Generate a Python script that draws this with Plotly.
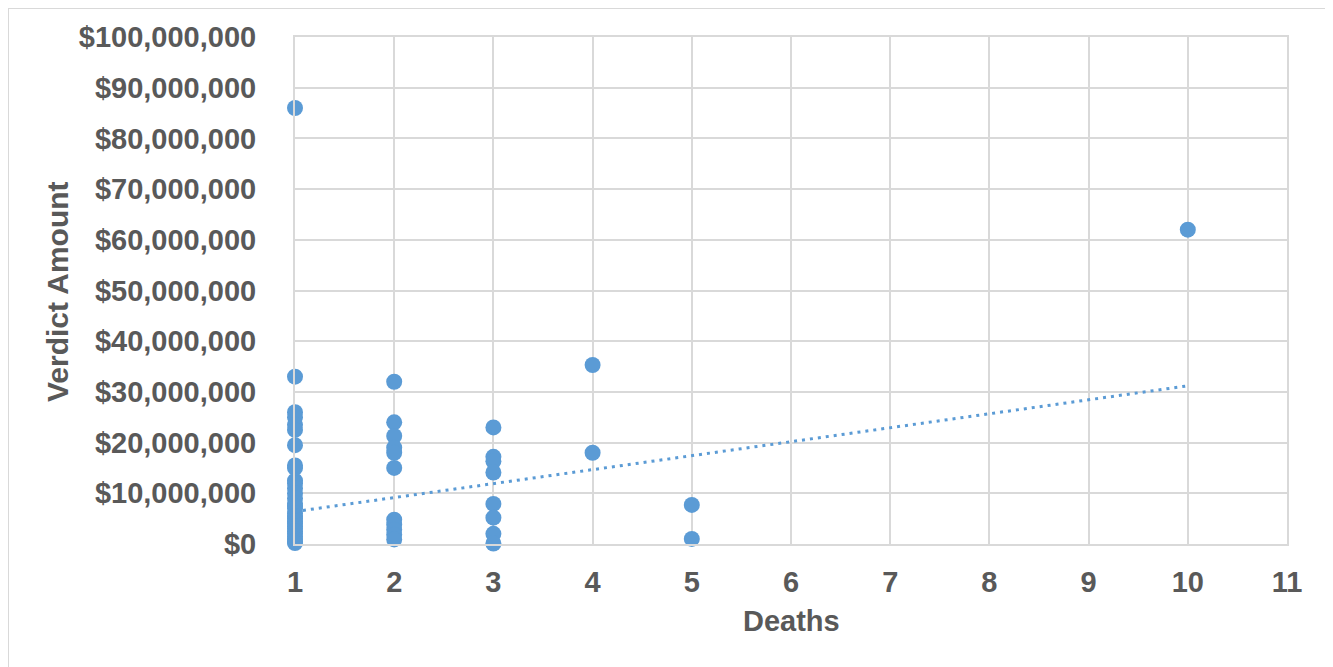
import plotly.graph_objects as go

deaths_1 = [1] * 30
verdict_1 = [86.0, 33.0, 26.0, 25.0, 23.5, 22.5, 19.5, 15.5, 15.0, 12.5, 12.0, 11.0, 10.0,
             9.0, 8.0, 7.5, 7.0, 6.0, 5.5, 5.0, 4.5, 4.0, 3.5, 3.0, 2.5, 2.0, 1.5, 1.0, 0.5, 0.2]
deaths_2 = [2] * 11
verdict_2 = [32.0, 24.0, 21.3, 19.0, 18.0, 15.0, 4.8, 3.8, 2.8, 1.8, 0.9]
deaths_3 = [3] * 8
verdict_3 = [23.0, 17.2, 16.3, 14.1, 7.9, 5.2, 2.0, 0.1]
deaths_other = [4, 4, 5, 5, 10]
verdict_other = [35.3, 18.0, 7.7, 1.0, 62.0]

# linear trendline (deaths -> $ millions)
trend_deaths = [1, 10]
trend_verdict = [6.4, 31.2]

deaths = deaths_1 + deaths_2 + deaths_3 + deaths_other
verdicts = [v * 1e6 for v in verdict_1 + verdict_2 + verdict_3 + verdict_other]
trend_y = [v * 1e6 for v in trend_verdict]

x_ticks = list(range(1, 12))
y_ticks = list(range(0, 100_000_001, 10_000_000))

color = "#5B9BD5"
grey = "#595959"
grid = "#D9D9D9"
FONT = "Liberation Sans, Arial, sans-serif"

fig = go.Figure()
fig.add_trace(go.Scatter(x=deaths, y=verdicts, mode="markers",
                         marker=dict(size=16, color=color), showlegend=False,
                         cliponaxis=False))
fig.add_trace(go.Scatter(x=trend_deaths, y=trend_y, mode="lines",
                         line=dict(color=color, width=3, dash="3px,5px"), showlegend=False))

# figure coordinates (page is offset by the 8px body margin)
W, H = 1325, 659
L, R, T, B = 287, 1279, 29, 536
pw, ph = R - L, B - T

tickfont = dict(size=29, color=grey, family=FONT, weight="bold")
fig.update_layout(
    width=W, height=H,
    margin=dict(l=L, r=W - R, t=T, b=H - B),
    paper_bgcolor="white", plot_bgcolor="white",
    font=dict(family=FONT, color=grey),
    xaxis=dict(range=[1, 11], tickvals=x_ticks, showgrid=True, gridcolor=grid, gridwidth=2,
               zeroline=False, showline=True, linecolor=grid, linewidth=2, mirror=True,
               tickfont=tickfont, ticks="", ticklabelstandoff=11),
    yaxis=dict(range=[0, 100_000_000], tickvals=y_ticks, tickformat="$,.0f",
               showgrid=True, gridcolor=grid, gridwidth=2, zeroline=False,
               showline=True, linecolor=grid, linewidth=2, mirror=True,
               tickfont=tickfont, ticks="", ticklabelstandoff=31),
    shapes=[dict(type="rect", xref="paper", yref="paper",
                 x0=(0 - L) / pw, x1=(1323 - L) / pw,
                 y0=(B - 700) / ph, y1=(B - 0) / ph,
                 line=dict(color=grid, width=2), fillcolor="rgba(0,0,0,0)", layer="below")],
    annotations=[
        dict(text="Verdict Amount", xref="paper", yref="paper",
             x=(49 - L) / pw, y=(B - 284) / ph, textangle=-90, showarrow=False,
             xanchor="center", yanchor="middle",
             font=dict(size=30, color=grey, family=FONT, weight="bold")),
        dict(text="Deaths", xref="paper", yref="paper",
             x=(783 - L) / pw, y=(B - 613) / ph, showarrow=False,
             xanchor="center", yanchor="middle",
             font=dict(size=29, color=grey, family=FONT, weight="bold")),
    ],
)

fig.write_html("out.html")
